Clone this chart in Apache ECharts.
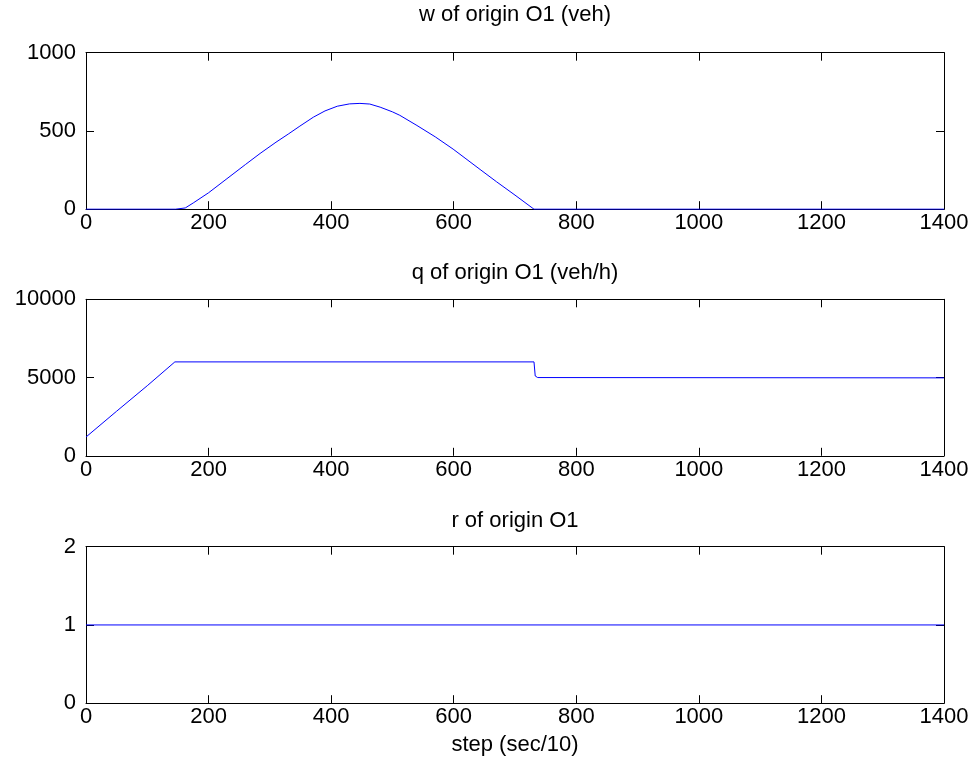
<!DOCTYPE html>
<html>
<head>
<meta charset="utf-8">
<script src="https://cdn.jsdelivr.net/npm/echarts@6/dist/echarts.min.js"></script>
<style>html,body{margin:0;padding:0;background:#fff}#c{width:978px;height:773px}</style>
</head>
<body>
<div id="c"></div>
<script>
// ---- data ----
const titles = ['w of origin O1 (veh)', 'q of origin O1 (veh/h)', 'r of origin O1'];
const xLabel = 'step (sec/10)';
const xTicks = [0, 200, 400, 600, 800, 1000, 1200, 1400];
const wTicks = [0, 500, 1000];
const qTicks = [0, 5000, 10000];
const rTicks = [0, 1, 2];
const wSteps = [0, 146, 147, 162, 175, 200, 230, 260, 284, 310, 330, 349, 371, 390, 410, 430, 447, 463, 480, 500, 512, 540, 570, 599, 620, 643, 670, 700, 731, 1400];
const wValues = [0, 0, 6, 8, 40, 105, 195, 285, 356, 428, 480, 531, 588, 628, 658, 673, 676, 672, 652, 622, 600, 535, 462, 384, 322, 254, 175, 90, 0, 0];
const qSteps = [0, 50, 100, 145, 731, 733, 737, 1400];
const qValues = [1200, 2850, 4480, 6000, 6000, 5100, 5000, 4980];
const rSteps = [0, 1400];
const rValues = [1, 1];

const pairs = (xs, ys) => xs.map((x, i) => [x, ys[i]]);
const seriesData = [pairs(wSteps, wValues), pairs(qSteps, qValues), pairs(rSteps, rValues)];
const yTickSets = [wTicks, qTicks, rTicks];

const chart = echarts.init(document.getElementById('c'), null, {renderer: 'canvas'});
const FONT = 'Liberation Sans, Arial, sans-serif';
const FS = 22;
const tops = [52.7, 299.3, 546.7];
const titleTops = [4, 262, 510];
const H = 156.5;
const plain = v => String(v);
const grid = tops.map(t => ({left: 86, right: 34, top: t, height: H, containLabel: false}));
const xAxis = [], yAxis = [], series = [], title = [];
const line = {show: true, onZero: false, lineStyle: {color: '#000', width: 1}};
tops.forEach((t, i) => {
  const yt = yTickSets[i];
  const xBase = {type: 'value', gridIndex: i, min: xTicks[0], max: xTicks[xTicks.length - 1], interval: 200,
    axisLine: line, splitLine: {show: false},
    axisTick: {show: true, inside: true, length: 8, lineStyle: {color: '#000'}}};
  xAxis.push(Object.assign({}, xBase, {position: 'bottom',
    axisLabel: {show: true, color: '#000', fontSize: FS, fontFamily: FONT, margin: 3, formatter: plain},
    name: i === 2 ? xLabel : '', nameLocation: 'middle', nameGap: 31,
    nameTextStyle: {color: '#000', fontSize: FS, fontFamily: FONT}}));
  xAxis.push(Object.assign({}, xBase, {position: 'top', axisLabel: {show: false}}));
  const yBase = {type: 'value', gridIndex: i, min: yt[0], max: yt[yt.length - 1], interval: yt[1] - yt[0],
    axisLine: line, splitLine: {show: false},
    axisTick: {show: true, inside: true, length: 8, lineStyle: {color: '#000'}}};
  yAxis.push(Object.assign({}, yBase, {position: 'left',
    axisLabel: {show: true, color: '#000', fontSize: FS, fontFamily: FONT, margin: 10, formatter: plain}}));
  yAxis.push(Object.assign({}, yBase, {position: 'right', axisLabel: {show: false}}));
  series.push({type: 'line', xAxisIndex: 2 * i, yAxisIndex: 2 * i, data: seriesData[i],
    showSymbol: false, symbol: 'none', animation: false,
    lineStyle: {color: '#0000ff', width: 1}});
  title.push({text: titles[i], left: 515, textAlign: 'center', top: titleTops[i], padding: 0,
    textStyle: {color: '#000', fontSize: FS, fontWeight: 'normal', fontFamily: FONT}});
});
chart.setOption({animation: false, backgroundColor: '#fff', title, grid, xAxis, yAxis, series});
</script>
</body>
</html>
